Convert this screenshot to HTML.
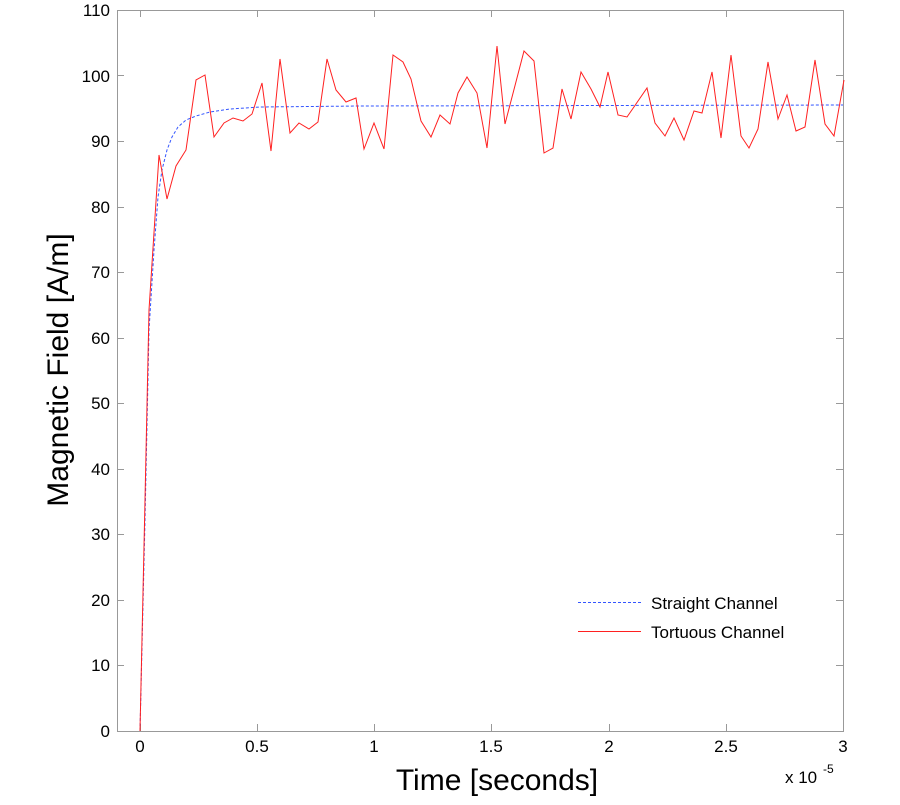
<!DOCTYPE html>
<html><head><meta charset="utf-8"><style>
body{margin:0;background:#fff;}
svg text{font-family:"Liberation Sans",sans-serif;}
</style></head><body>
<svg width="900" height="800" viewBox="0 0 900 800" xmlns="http://www.w3.org/2000/svg">
<rect x="0" y="0" width="900" height="800" fill="#fff"/>
<rect x="117.5" y="10.5" width="726" height="721" fill="none" stroke="#999" stroke-width="1"/>
<g stroke="#999" stroke-width="1">
<path d="M140.5 731v-7M257.5 731v-7M374.5 731v-7M491.5 731v-7M609.5 731v-7M726.5 731v-7M843.5 731v-7"/>
<path d="M140.5 10v7M257.5 10v7M374.5 10v7M491.5 10v7M609.5 10v7M726.5 10v7"/>
<path d="M117 665.5h7M117 600.5h7M117 534.5h7M117 469.5h7M117 403.5h7M117 338.5h7M117 272.5h7M117 207.5h7M117 141.5h7M117 75.5h7"/>
<path d="M843 665.5h-7M843 600.5h-7M843 534.5h-7M843 469.5h-7M843 403.5h-7M843 338.5h-7M843 272.5h-7M843 207.5h-7M843 141.5h-7M843 75.5h-7"/>
</g>
<g font-size="17" fill="#000" text-anchor="end">
<text x="110" y="737">0</text><text x="110" y="671">10</text><text x="110" y="606">20</text><text x="110" y="540">30</text><text x="110" y="475">40</text><text x="110" y="409">50</text><text x="110" y="344">60</text><text x="110" y="278">70</text><text x="110" y="213">80</text><text x="110" y="147">90</text><text x="110" y="82">100</text><text x="110" y="16">110</text>
</g>
<g font-size="17" fill="#000" text-anchor="middle">
<text x="140" y="752">0</text><text x="257" y="752">0.5</text><text x="374" y="752">1</text><text x="491" y="752">1.5</text><text x="609" y="752">2</text><text x="726" y="752">2.5</text><text x="843" y="752">3</text>
</g>
<text x="785" y="783" font-size="17">x 10</text><text x="823" y="773" font-size="12">-5</text>
<text x="497" y="790" font-size="30" text-anchor="middle">Time [seconds]</text>
<text transform="translate(68,370) rotate(-90)" font-size="30" text-anchor="middle">Magnetic Field [A/m]</text>
<polyline fill="none" stroke="#3355ff" stroke-width="1" stroke-dasharray="3,2" points="140,731 145,520 149,330 154,250 158,197 162,170 167,150 172,137 178,127 186,120 196,116 210,112 230,109 260,107 360,106 843,105"/>
<polyline fill="none" stroke="#ff2020" stroke-width="1" points="140,731 145,500 149,310 159,155 167,199 176,166 186,150 196,80 205,75 214,137 224,123 233,118 243,121 252,114 262,83 271,151 280,59 290,133 299,123 309,129 318,122 327,59 336,90 346,102 356,98 364,149 374,123 384,149 393,55 403,62 411,79 421,121 431,137 440,115 450,124 458,93 467,77 477,93 487,148 497,46 505,124 524,51 534,61 544,153 553,148 562,89 571,119 581,72 591,89 600,107 608,72 618,115 627,117 647,88 655,123 665,136 674,118 684,140 694,111 702,113 712,72 721,138 731,55 741,136 749,148 758,129 768,62 778,119 787,95 796,131 805,127 815,60 825,124 834,136 844,80"/>
<path d="M578 602.5H641" fill="none" stroke="#3355ff" stroke-width="1" stroke-dasharray="3,2"/>
<rect x="578" y="631" width="63" height="1" fill="#ff2020"/>
<text x="651" y="609" font-size="17">Straight Channel</text>
<text x="651" y="638" font-size="17">Tortuous Channel</text>
</svg>
</body></html>
